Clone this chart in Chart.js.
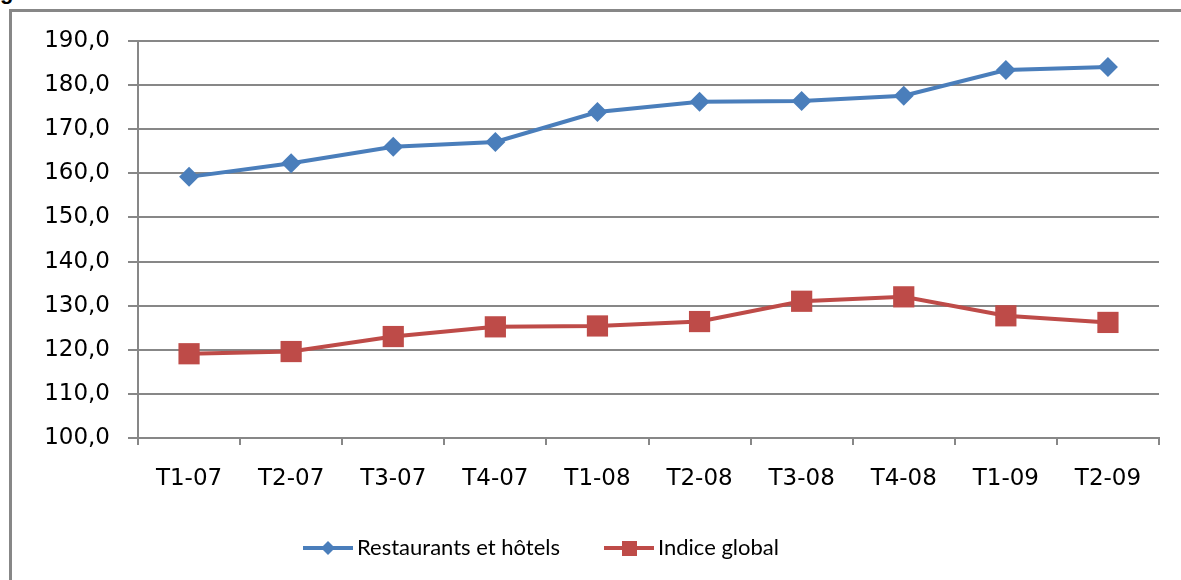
<!DOCTYPE html>
<html><head><meta charset="utf-8">
<script src="https://cdn.jsdelivr.net/npm/chart.js@4.4.1/dist/chart.umd.min.js"></script>
<style>
html,body{margin:0;padding:0;background:#fff;overflow:hidden}
#wrap{position:relative;width:1181px;height:580px;overflow:hidden}
#frame{position:absolute;left:9px;top:9px;width:1300px;height:700px;border-left:3px solid #878787;border-top:3px solid #878787}
#cut{position:absolute;left:0;top:-21px;font:bold 22px "Liberation Sans";color:#000}
canvas{position:absolute;left:0;top:0}
</style></head><body>
<div id="wrap"><div id="cut">g</div><div id="frame"></div><canvas id="c" width="1181" height="580"></canvas></div>
<script>
const categories = ['T1-07','T2-07','T3-07','T4-07','T1-08','T2-08','T3-08','T4-08','T1-09','T2-09'];
const restaurantsHotels = [159.2, 162.3, 166.0, 167.1, 173.9, 176.2, 176.4, 177.6, 183.4, 184.1];
const indiceGlobal = [119.1, 119.6, 123.0, 125.2, 125.4, 126.4, 131.0, 132.0, 127.7, 126.2];
const seriesNames = ['Restaurants et hôtels', 'Indice global'];
const yTicks = [100, 110, 120, 130, 140, 150, 160, 170, 180, 190];

const BLUE = '#4A7EBB', RED = '#BE4B48', GRID = '#878787';

function legendIcon(color, shape) {
  const cv = document.createElement('canvas');
  cv.width = 50; cv.height = 22;
  const g = cv.getContext('2d');
  g.strokeStyle = color; g.lineWidth = 4;
  g.beginPath(); g.moveTo(0, 11); g.lineTo(50, 11); g.stroke();
  g.fillStyle = color;
  if (shape === 'diamond') {
    g.beginPath(); g.moveTo(25, 4); g.lineTo(32, 11); g.lineTo(25, 18); g.lineTo(18, 11); g.closePath(); g.fill();
  } else {
    g.fillRect(18, 4, 15, 15);
  }
  return cv;
}
const icons = [legendIcon(BLUE, 'diamond'), legendIcon(RED, 'square')];

const shiftPlugin = {
  id: 'shift',
  afterLayout(chart) {
    const lg = chart.legend;
    if (!lg || !lg.lineWidths) return;
    const pad = lg.options.labels.padding;
    const cur = (lg.left + pad + lg.right - lg.lineWidths[0]) / 2;
    const dx = 310 - cur;
    lg.left += dx; lg.right += dx;
    lg.top -= 11; lg.bottom -= 11;
  }
};

new Chart(document.getElementById('c'), {
  type: 'line',
  data: {
    labels: categories,
    datasets: [
      { label: seriesNames[0], data: restaurantsHotels, borderColor: BLUE, backgroundColor: BLUE,
        borderWidth: 4, pointStyle: 'rectRot', pointRadius: 10, pointHoverRadius: 10,
        pointBorderWidth: 0, pointBackgroundColor: BLUE, tension: 0 },
      { label: seriesNames[1], data: indiceGlobal, borderColor: RED, backgroundColor: RED,
        borderWidth: 4, pointStyle: 'rect', pointRadius: 15, pointHoverRadius: 15,
        pointBorderWidth: 0, pointBackgroundColor: RED, tension: 0 }
    ]
  },
  options: {
    responsive: false, animation: false, devicePixelRatio: 1,
    layout: { padding: { top: 41, right: 22, left: 0, bottom: 0 } },
    plugins: {
      tooltip: { enabled: false },
      legend: {
        position: 'bottom',
        labels: {
          usePointStyle: true, pointStyleWidth: 36, padding: 51,
          color: '#000', font: { family: 'Lato', size: 22 },
          generateLabels(chart) {
            return chart.data.datasets.map((d, i) => ({
              text: d.label, pointStyle: icons[i], fillStyle: d.borderColor,
              strokeStyle: d.borderColor, lineWidth: 0, hidden: false, datasetIndex: i
            }));
          }
        }
      }
    },
    scales: {
      x: {
        offset: true,
        afterFit(s) { s.height = 59; },
        grid: { offset: true, drawOnChartArea: false, drawTicks: true, tickLength: 7, color: GRID, lineWidth: 2 },
        border: { color: GRID, width: 2 },
        ticks: { color: '#000', font: { family: '"DejaVu Sans"', size: 23 }, padding: 20, maxRotation: 0 }
      },
      y: {
        min: 100, max: 190,
        afterFit(s) { s.width = 138; },
        afterBuildTicks(s) { s.ticks = yTicks.map(v => ({ value: v })); },
        grid: { color: GRID, lineWidth: 2, tickLength: 10 },
        border: { color: GRID, width: 2 },
        ticks: { color: '#000', font: { family: '"DejaVu Sans"', size: 23 }, padding: 18,
          callback: v => v.toFixed(1).replace('.', ',') }
      }
    }
  },
  plugins: [shiftPlugin]
});
</script>
</body></html>
